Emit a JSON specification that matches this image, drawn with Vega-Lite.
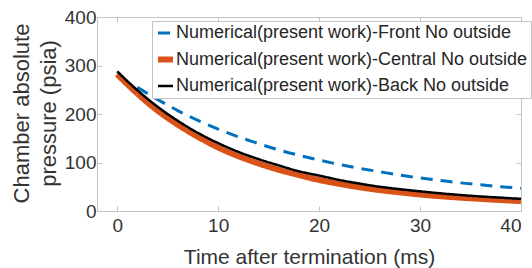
{
  "$schema": "https://vega.github.io/schema/vega-lite/v6.json",
  "width": 424,
  "height": 194,
  "autosize": {"type": "none"},
  "padding": {"left": 97, "top": 17, "right": 11, "bottom": 57},
  "background": "white",
  "config": {
    "font": "Liberation Sans",
    "view": {"stroke": "#c4c4c4", "strokeWidth": 1},
    "axis": {
      "grid": false,
      "domainColor": "#c4c4c4",
      "tickColor": "#c4c4c4",
      "tickSize": -5,
      "labelFont": "Liberation Sans",
      "labelFontSize": 19,
      "labelColor": "#333333",
      "titleFont": "Liberation Sans",
      "titleFontWeight": "normal",
      "titleColor": "#333333"
    }
  },
  "data": {
    "values": [
      {"t": 2, "p": 255, "s": "Front"}, {"t": 4, "p": 230, "s": "Front"}, {"t": 6, "p": 207, "s": "Front"},
      {"t": 8, "p": 187, "s": "Front"}, {"t": 10, "p": 169, "s": "Front"}, {"t": 12, "p": 153, "s": "Front"},
      {"t": 14, "p": 139, "s": "Front"}, {"t": 16, "p": 126, "s": "Front"}, {"t": 18, "p": 115, "s": "Front"},
      {"t": 20, "p": 105, "s": "Front"}, {"t": 22, "p": 96, "s": "Front"}, {"t": 24, "p": 88, "s": "Front"},
      {"t": 26, "p": 81, "s": "Front"}, {"t": 28, "p": 74, "s": "Front"}, {"t": 30, "p": 68, "s": "Front"},
      {"t": 32, "p": 63, "s": "Front"}, {"t": 34, "p": 58, "s": "Front"}, {"t": 36, "p": 54, "s": "Front"},
      {"t": 38, "p": 50, "s": "Front"}, {"t": 40, "p": 47, "s": "Front"},
      {"t": 0, "p": 282, "s": "Central"}, {"t": 2, "p": 242, "s": "Central"}, {"t": 4, "p": 207, "s": "Central"},
      {"t": 6, "p": 178, "s": "Central"}, {"t": 8, "p": 153, "s": "Central"}, {"t": 10, "p": 131, "s": "Central"},
      {"t": 12, "p": 113, "s": "Central"}, {"t": 14, "p": 98, "s": "Central"}, {"t": 16, "p": 85, "s": "Central"},
      {"t": 18, "p": 74, "s": "Central"}, {"t": 20, "p": 64, "s": "Central"}, {"t": 22, "p": 56, "s": "Central"},
      {"t": 24, "p": 49, "s": "Central"}, {"t": 26, "p": 43, "s": "Central"}, {"t": 28, "p": 38.5, "s": "Central"},
      {"t": 30, "p": 34, "s": "Central"}, {"t": 32, "p": 30.5, "s": "Central"}, {"t": 34, "p": 27.5, "s": "Central"},
      {"t": 36, "p": 25, "s": "Central"}, {"t": 38, "p": 22.5, "s": "Central"}, {"t": 40, "p": 20.5, "s": "Central"},
      {"t": 0, "p": 288, "s": "Back"}, {"t": 2, "p": 249, "s": "Back"}, {"t": 4, "p": 215, "s": "Back"},
      {"t": 6, "p": 186, "s": "Back"}, {"t": 8, "p": 161, "s": "Back"}, {"t": 10, "p": 140, "s": "Back"},
      {"t": 12, "p": 122, "s": "Back"}, {"t": 14, "p": 107, "s": "Back"}, {"t": 16, "p": 94, "s": "Back"},
      {"t": 18, "p": 82, "s": "Back"}, {"t": 20, "p": 73, "s": "Back"}, {"t": 22, "p": 64, "s": "Back"},
      {"t": 24, "p": 56.5, "s": "Back"}, {"t": 26, "p": 50, "s": "Back"}, {"t": 28, "p": 45, "s": "Back"},
      {"t": 30, "p": 40.5, "s": "Back"}, {"t": 32, "p": 36.5, "s": "Back"}, {"t": 34, "p": 33, "s": "Back"},
      {"t": 36, "p": 30, "s": "Back"}, {"t": 38, "p": 27.5, "s": "Back"}, {"t": 40, "p": 25, "s": "Back"}
    ]
  },
  "layer": [
    {
      "encoding": {
        "x": {
          "field": "t", "type": "quantitative",
          "scale": {"domain": [-2, 40], "nice": false, "zero": false},
          "axis": {
            "values": [0, 10, 20, 30, 40],
            "labelPadding": 10,
            "title": "Time after termination (ms)",
            "titleFontSize": 21,
            "titleX": 212, "titleY": 52,
            "titleAlign": "center", "titleBaseline": "alphabetic"
          }
        },
        "y": {
          "field": "p", "type": "quantitative",
          "scale": {"domain": [0, 400], "nice": false},
          "axis": {
            "values": [0, 100, 200, 300, 400],
            "labelPadding": 6,
            "title": ["Chamber absolute", "pressure (psia)"],
            "titleFontSize": 22,
            "titleLineHeight": 27.5,
            "titleAngle": 270,
            "titleX": -69, "titleY": 96,
            "titleAlign": "center", "titleBaseline": "alphabetic"
          }
        },
        "color": {
          "field": "s", "type": "nominal",
          "scale": {"domain": ["Front", "Central", "Back"], "range": ["#0072BD", "#D95319", "#000000"]},
          "legend": {
            "title": null,
            "orient": "none",
            "legendX": 55, "legendY": 4,
            "labelExpr": "'Numerical(present work)-' + datum.label + ' No outside'",
            "labelFont": "Liberation Sans",
            "labelFontSize": 18,
            "labelColor": "#262626",
            "labelLimit": 0,
            "labelOffset": 0,
            "symbolType": "stroke",
            "symbolSize": 225,
            "rowPadding": 5,
            "padding": 3,
            "strokeColor": "#c4c4c4",
            "fillColor": "white",
            "cornerRadius": 0
          }
        },
        "strokeDash": {
          "field": "s", "type": "nominal",
          "scale": {"domain": ["Front", "Central", "Back"], "range": [[12, 8], [1, 0], [1, 0]]}
        },
        "strokeWidth": {
          "field": "s", "type": "nominal",
          "scale": {"type": "ordinal", "domain": ["Front", "Central", "Back"], "range": [3, 6, 2.5]}
        }
      },
      "layer": [
        {"transform": [{"filter": "datum.s == 'Front'"}], "mark": {"type": "line", "interpolate": "monotone"}},
        {"transform": [{"filter": "datum.s == 'Central'"}], "mark": {"type": "line", "interpolate": "monotone"}},
        {"transform": [{"filter": "datum.s == 'Back'"}], "mark": {"type": "line", "interpolate": "monotone"}}
      ]
    },
    {
      "transform": [{"filter": "datum.s == 'Front'"}],
      "mark": {"type": "line", "strokeOpacity": 0},
      "encoding": {
        "x": {
          "field": "t", "type": "quantitative",
          "scale": {"domain": [-2, 40], "nice": false, "zero": false},
          "axis": {"orient": "top", "values": [0, 10, 20, 30, 40], "labels": false, "domain": false, "title": null}
        },
        "y": {
          "field": "p", "type": "quantitative",
          "scale": {"domain": [0, 400], "nice": false},
          "axis": {"orient": "right", "values": [0, 100, 200, 300, 400], "labels": false, "domain": false, "title": null}
        }
      }
    }
  ],
  "resolve": {"axis": {"x": "independent", "y": "independent"}}
}
